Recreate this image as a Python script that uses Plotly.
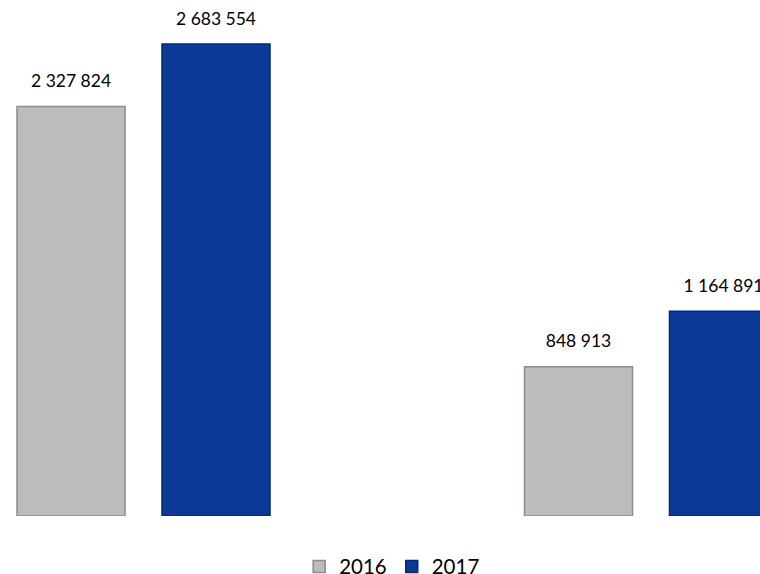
import plotly.graph_objects as go

categories = ["Group 1", "Group 2"]
values_2016 = [2327824, 848913]
values_2017 = [2683554, 1164891]
labels_2016 = ["2 327 824", "848 913"]
labels_2017 = ["2 683 554", "1 164 891"]


def lab(t):
    return "<span style='font-size:17.5px'>" + t + "</span><br> "


fig = go.Figure()
fig.add_trace(go.Bar(
    x=categories, y=values_2016, name="2016",
    text=[lab(t) for t in labels_2016], textposition="outside", cliponaxis=False,
    marker=dict(color="#BDBBBE", line=dict(color="#8C8C8C", width=1.5)),
    textfont=dict(color="#000000", size=11, family="Lato"),
))
fig.add_trace(go.Bar(
    x=categories, y=values_2017, name="2017",
    text=[lab(t) for t in labels_2017], textposition="outside", cliponaxis=False,
    marker=dict(color="#0A3A96", line=dict(color="#06286E", width=1.5)),
    textfont=dict(color="#000000", size=11, family="Lato"),
))

fig.update_layout(
    width=760, height=587,
    margin=dict(l=0, r=0, t=0, b=60),
    paper_bgcolor="white", plot_bgcolor="white",
    barmode="group", bargap=0.4286, bargroupgap=0.255,
    showlegend=True,
    legend=dict(orientation="h", x=0.516, xanchor="center", y=-0.098, yanchor="middle",
                font=dict(size=20.5, family="Lato", color="#000000"), itemwidth=30),
    font=dict(family="Lato"),
    uniformtext=dict(minsize=8, mode="show"),
)
fig.update_xaxes(range=[-0.2828, 1.2148], showticklabels=False, showgrid=False,
                 zeroline=False, showline=False, ticks="")
fig.update_yaxes(range=[0, 2934100], showticklabels=False, showgrid=False,
                 zeroline=False, showline=False, ticks="")

post = (
    "var h=document.documentElement,b=document.body;"
    "h.style.margin='0';h.style.padding='0';h.style.overflow='hidden';"
    "b.style.margin='0';b.style.padding='0';b.style.overflow='hidden';"
)
fig.write_html("out.html", config={"displayModeBar": False}, post_script=post)
